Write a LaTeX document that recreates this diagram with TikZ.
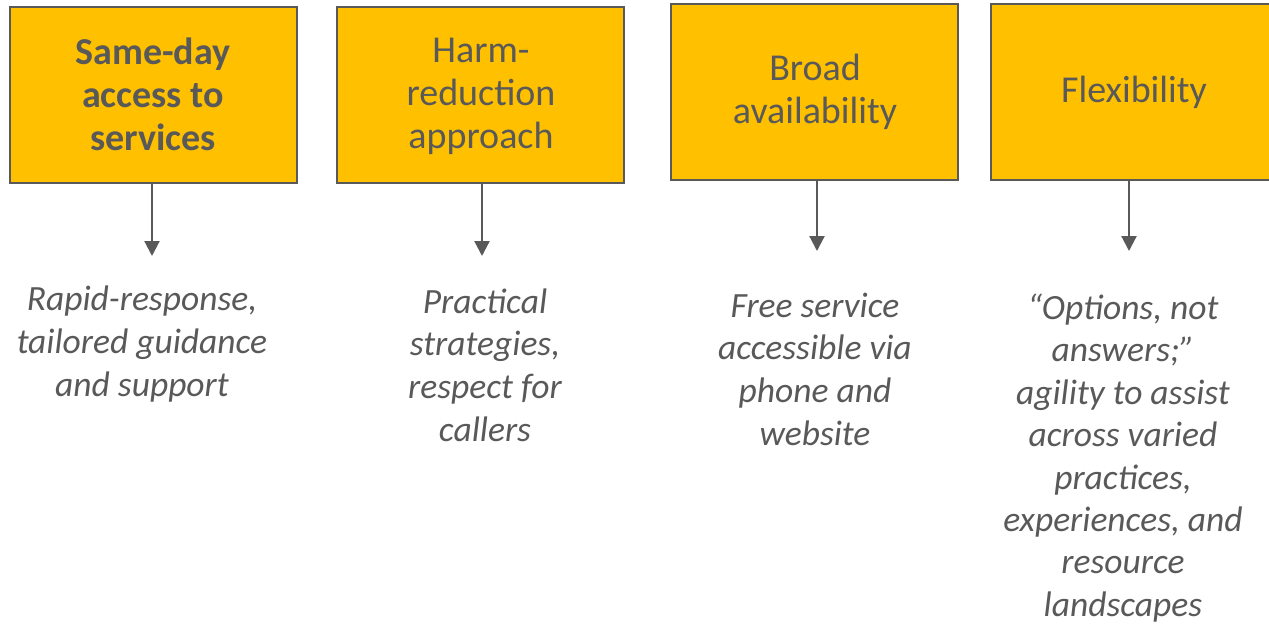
\documentclass[tikz,border=0pt]{standalone}
\usepackage{fontspec}
\setmainfont{Carlito}
\usetikzlibrary{arrows.meta}
\definecolor{boxfill}{HTML}{FFC000}
\definecolor{ink}{HTML}{595959}
\tikzset{
  topbox/.style={draw=ink, line width=2.6pt, fill=boxfill, minimum width=287pt, minimum height=176pt, inner sep=0pt},
  boxtext/.style={text=ink, align=center, font=\fontsize{38}{43}\selectfont},
  lowtext/.style={text=ink, align=center, font=\fontsize{35.5}{42.7}\selectfont\itshape},
  conn/.style={draw=ink, line width=2.2pt, -{Triangle[length=15pt,width=15pt]}}
}
\begin{document}
\begin{tikzpicture}[x=1pt,y=-1pt]
\useasboundingbox (0,0) rectangle (1269,626);
% boxes
\node[topbox] (b1) at (153.5,95) {};
\node[topbox] (b2) at (480.5,95) {};
\node[topbox] (b3) at (814.5,92) {};
\node[topbox, minimum width=280pt] (b4) at (1131,92) {};
% box texts
\node[boxtext, font=\fontsize{38}{43}\selectfont\bfseries] (t1) at (153,94) {Same-day\\access to\\services};
\node[boxtext] (t2) at (481,96) {Harm-\\reduction\\approach};
\node[boxtext] (t3) at (815,92) {Broad\\availability};
\node[boxtext] (t4) at (1134,92) {Flexibility};
% arrow ends
\coordinate (e1) at (152,256);
\coordinate (e2) at (482,256);
\coordinate (e3) at (817,251);
\coordinate (e4) at (1129,251);
\draw[conn] (b1.south -| e1) -- (e1);
\draw[conn] (b2.south -| e2) -- (e2);
\draw[conn] (b3.south -| e3) -- (e3);
\draw[conn] (b4.south -| e4) -- (e4);
% lower texts
\node[lowtext] (l1) at (142,344) {Rapid-response,\\tailored guidance\\and support};
\node[lowtext] (l2) at (485,365) {Practical\\strategies,\\respect for\\callers};
\node[lowtext] (l3) at (815,369) {Free service\\accessible via\\phone and\\website};
\node[lowtext, font=\fontsize{35.5}{42.4}\selectfont\itshape] (l4) at (1123,458) {“Options, not\\answers;”\\agility to assist\\across varied\\practices,\\experiences, and\\resource\\landscapes};
\end{tikzpicture}
\end{document}
